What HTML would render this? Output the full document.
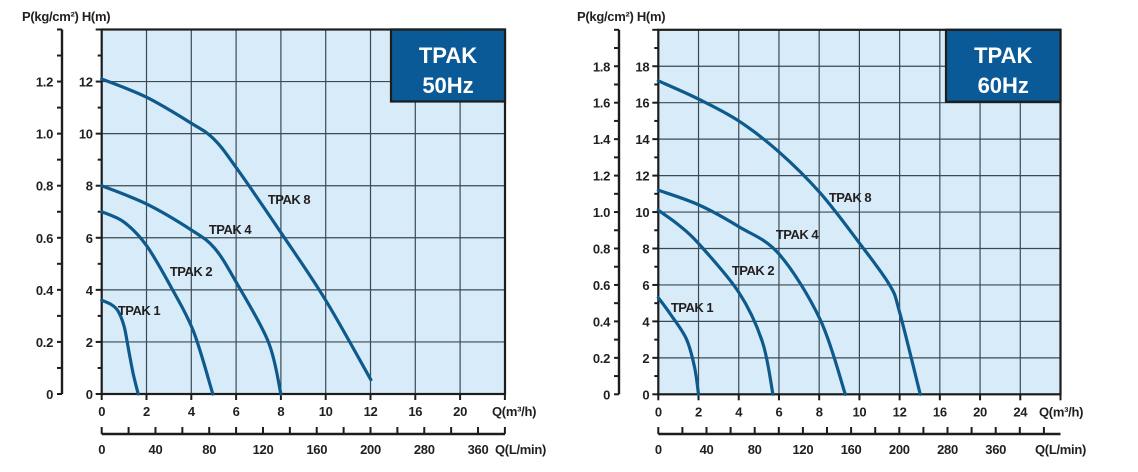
<!DOCTYPE html>
<html><head><meta charset="utf-8">
<style>
html,body{margin:0;padding:0;background:#fff;}
svg{display:block;font-family:"Liberation Sans",sans-serif;}
.t{font-size:13px;font-weight:bold;fill:#231f20;letter-spacing:-0.3px;}
.cl{font-size:13px;font-weight:bold;fill:#231f20;letter-spacing:-0.5px;}
.bx{font-size:22px;font-weight:bold;fill:#fff;}
</style></head>
<body>
<svg id="svg" width="1138" height="472" viewBox="0 0 1138 472"></svg>
<script>
// ---- data: 50Hz chart ----
const left_hTicks = [0,2,4,6,8,10,12];
const left_pTicks = ["0","0.2","0.4","0.6","0.8","1.0","1.2"];
const left_qTicks = [0,2,4,6,8,10,12,16,20];
const left_lTicks = ["0","40","80","120","160","200","280","360"];
const left_names = ["TPAK 1","TPAK 2","TPAK 4","TPAK 8"];
const left_q1 = [0,0.4,0.72,1.0,1.2,1.4,1.63];
const left_h1 = [3.6,3.45,3.2,2.6,1.7,0.8,0];
const left_q2 = [0,1,2,3.1,4.1,4.96];
const left_h2 = [7,6.6,5.7,4.1,2.4,0];
const left_q4 = [0,2,4,5.04,6,7.44,8];
const left_h4 = [8,7.3,6.3,5.6,4.3,2.0,0];
const left_q8 = [0,2,4,5,6,8.08,10,12.03];
const left_h8 = [12.1,11.4,10.4,9.8,8.7,6.1,3.6,0.55];
// ---- data: 60Hz chart ----
const right_hTicks = [0,2,4,6,8,10,12,14,16,18];
const right_pTicks = ["0","0.2","0.4","0.6","0.8","1.0","1.2","1.4","1.6","1.8"];
const right_qTicks = [0,2,4,6,8,10,12,16,20,24];
const right_lTicks = ["0","40","80","120","160","200","280","360"];
const right_names = ["TPAK 1","TPAK 2","TPAK 4","TPAK 8"];
const right_q1 = [0,0.6,1.39,1.8,2.0];
const right_h1 = [5.3,4.4,3.05,1.5,0];
const right_q2 = [0,1,1.98,4,5.17,5.7];
const right_h2 = [10.1,9.3,8.3,5.6,2.9,0];
const right_q4 = [0,2,4,6,8.05,9.3];
const right_h4 = [11.2,10.4,9.2,7.7,4.1,0];
const right_q8 = [0,2,4,6,8.05,10,11.5,12,14.05];
const right_h8 = [17.2,16.2,15.0,13.3,11.05,8.3,6.0,4.5,0];

const NS="http://www.w3.org/2000/svg";
const svg=document.getElementById('svg');
function mk(tag,attrs,parent){const e=document.createElementNS(NS,tag);for(const k in attrs)e.setAttribute(k,attrs[k]);(parent||svg).appendChild(e);return e;}
function txt(s,x,y,cls,anchor,parent){const e=mk('text',{x:x,y:y,class:cls,'text-anchor':anchor||'middle'},parent);e.textContent=s;return e;}

function chart(cfg){
  const g=mk('g',{});
  
  
  const {x0,x1,y0,yTop,hMax,cw,pAx}=cfg;
  const ky=(y0-yTop)/hMax;
  const X=q=> q<=12 ? x0+q/2*cw : x0+(6+(q-12)/4)*cw;
  const Y=h=> y0-h*ky;
  const bg=mk('rect',{x:x0,y:yTop,width:x1-x0,height:y0-yTop,fill:'#d7ecf8'},g);
  
  
  // vertical grid
  const nCols=Math.round((x1-x0)/cw);
  for(let i=1;i<nCols;i++){const x=x0+i*cw;const l=mk('line',{x1:x,y1:yTop,x2:x,y2:y0,stroke:'#3a4a55','stroke-width':1.2},g);}
  // horizontal grid
  for(let h=2;h<hMax;h+=2){const y=Y(h);const l=mk('line',{x1:x0,y1:y,x2:x1,y2:y,stroke:'#3a4a55','stroke-width':1.2},g);}
  mk('rect',{x:x0,y:yTop,width:x1-x0,height:y0-yTop,fill:'none',stroke:'#1d1d1b','stroke-width':2.2},g);
  // H axis ticks
  for(let h=0;h<=hMax;h++){const y=Y(h);mk('line',{x1:x0-(h%2?4:6),y1:y,x2:x0,y2:y,stroke:'#1d1d1b','stroke-width':2},g);}
  cfg.hTicks.forEach(h=>{const t=txt(String(h),x0-9,Y(h)+5,'t','end',g);});
  // P axis
  mk('line',{x1:pAx,y1:yTop,x2:pAx,y2:y0,stroke:'#1d1d1b','stroke-width':2.4},g);
  for(let h=0;h<=hMax;h++){const y=Y(h);mk('line',{x1:pAx-5,y1:y,x2:pAx,y2:y,stroke:'#1d1d1b','stroke-width':2},g);}
  cfg.pTicks.forEach((p,i)=>{const t=txt(p,pAx-9,Y(i*2)+5,'t','end',g);});
  const at=txt('P(kg/cm²) H(m)',cfg.titleX,21,'t','start',g);
  
  
  // Q ticks
  for(let i=0;i<=nCols;i++){const x=x0+i*cw;mk('line',{x1:x,y1:y0,x2:x,y2:y0+6,stroke:'#1d1d1b','stroke-width':2},g);}
  cfg.qTicks.forEach(q=>{const t=txt(String(q),X(q),y0+22,'t','middle',g);});
  const qt=txt('Q(m³/h)',cfg.qTitleX,y0+22,'t','start',g);
  
  
  // L/min axis
  const ly=434;
  mk('line',{x1:x0,y1:ly,x2:x1,y2:ly,stroke:'#1d1d1b','stroke-width':2.4},g);
  for(let i=0;i*cfg.lStep<=x1-x0+1;i++){const x=x0+i*cfg.lStep;mk('line',{x1:x,y1:ly-7,x2:x,y2:ly,stroke:'#1d1d1b','stroke-width':2},g);}
  cfg.lTicks.forEach((s,i)=>{const t=txt(s,x0+i*2*cfg.lStep,ly+20,'t','middle',g);});
  const lt=txt('Q(L/min)',cfg.lTitleX,ly+20,'t','start',g);
  
  
  // curves
  cfg.curves.forEach((c,ci)=>{
    const pts=c.q.map((q,i)=>[X(q),Y(c.h[i])]);
    let d='M'+pts[0][0]+','+pts[0][1];
    for(let i=0;i<pts.length-1;i++){
      const p0=pts[Math.max(0,i-1)],p1=pts[i],p2=pts[i+1],p3=pts[Math.min(pts.length-1,i+2)];
      const c1=[p1[0]+(p2[0]-p0[0])/6,p1[1]+(p2[1]-p0[1])/6];
      const c2=[p2[0]-(p3[0]-p1[0])/6,p2[1]-(p3[1]-p1[1])/6];
      d+=` C${c1[0]},${c1[1]} ${c2[0]},${c2[1]} ${p2[0]},${p2[1]}`;
    }
    const path=mk('path',{d:d,fill:'none',stroke:'#0f5a8c','stroke-width':3.2,'stroke-linecap':'round'},g);
    
    
    const lb=txt(cfg.names[ci],c.lx,c.ly+5,'cl','middle',g);
    
    
  });
  // title box
  const bx=mk('rect',{x:cfg.boxX,y:yTop,width:x1-cfg.boxX,height:72,fill:'#0a5a98',stroke:'#1d1d1b','stroke-width':2.2},g);
  
  
  const cx=(cfg.boxX+x1)/2;
  const t1=txt('TPAK',cx,63,'bx','middle',g);
  const t2=txt(cfg.freq,cx,93,'bx','middle',g);
}

chart({name:'chart-50hz',x0:101.7,x1:505,y0:394,yTop:29.5,hMax:14,cw:44.8,pAx:62,titleX:22,
  hTicks:left_hTicks,pTicks:left_pTicks,qTicks:left_qTicks,lTicks:left_lTicks,lStep:26.88,
  qTitleX:492,lTitleX:495,boxX:391,freq:'50Hz',names:left_names,
  curves:[{q:left_q1,h:left_h1,lx:139,ly:310},{q:left_q2,h:left_h2,lx:191,ly:271},
          {q:left_q4,h:left_h4,lx:230,ly:229},{q:left_q8,h:left_h8,lx:289,ly:199}]});
chart({name:'chart-60hz',x0:658.3,x1:1060.5,y0:394.3,yTop:29.8,hMax:20,cw:40.22,pAx:619,titleX:577,
  hTicks:right_hTicks,pTicks:right_pTicks,qTicks:right_qTicks,lTicks:right_lTicks,lStep:24.1,
  qTitleX:1039,lTitleX:1035,boxX:946,freq:'60Hz',names:right_names,
  curves:[{q:right_q1,h:right_h1,lx:692,ly:307},{q:right_q2,h:right_h2,lx:753,ly:270},
          {q:right_q4,h:right_h4,lx:797,ly:234},{q:right_q8,h:right_h8,lx:850,ly:197}]});
</script>
</body></html>
